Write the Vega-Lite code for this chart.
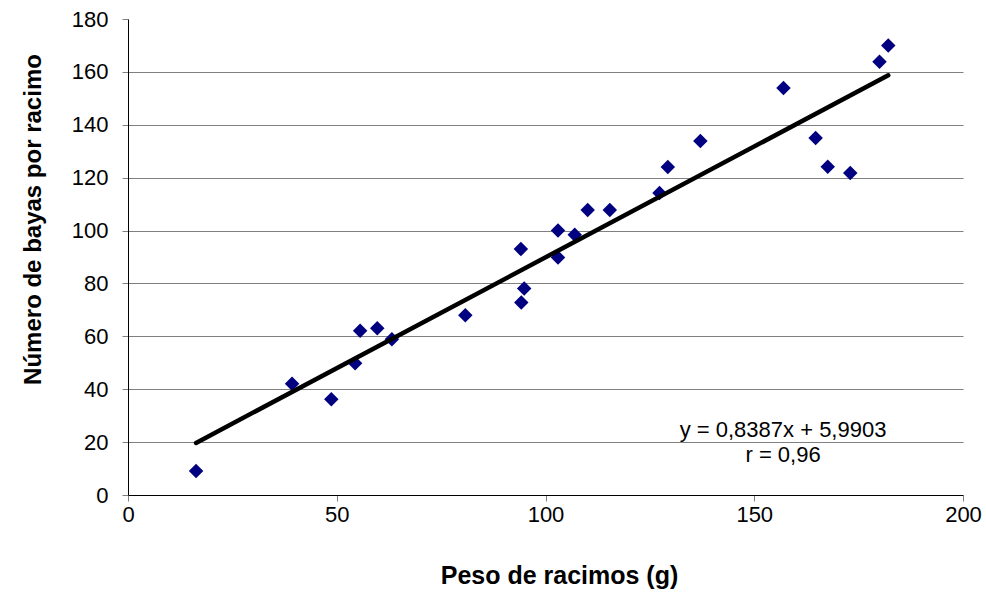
{
  "$schema": "https://vega.github.io/schema/vega-lite/v6.json",
  "width": 835,
  "height": 476,
  "autosize": {"type": "none"},
  "padding": {"left": 128, "top": 19, "right": 23, "bottom": 102},
  "background": "white",
  "config": {
    "view": {"stroke": null},
    "font": "Liberation Sans"
  },
  "datasets": {
    "points": [
      {"peso": 16.3, "bayas": 9.1},
      {"peso": 39.3, "bayas": 42.1},
      {"peso": 48.7, "bayas": 36.2},
      {"peso": 54.4, "bayas": 49.8},
      {"peso": 55.6, "bayas": 62.1},
      {"peso": 59.7, "bayas": 63.1},
      {"peso": 63.2, "bayas": 58.9},
      {"peso": 80.8, "bayas": 68.0},
      {"peso": 94.1, "bayas": 93.0},
      {"peso": 94.2, "bayas": 72.8},
      {"peso": 94.9, "bayas": 78.1},
      {"peso": 103.0, "bayas": 100.0},
      {"peso": 103.0, "bayas": 89.8},
      {"peso": 107.0, "bayas": 98.4},
      {"peso": 110.1, "bayas": 107.8},
      {"peso": 115.4, "bayas": 107.8},
      {"peso": 127.3, "bayas": 114.2},
      {"peso": 129.3, "bayas": 124.0},
      {"peso": 137.1, "bayas": 133.9},
      {"peso": 157.0, "bayas": 153.9},
      {"peso": 164.7, "bayas": 135.0},
      {"peso": 167.6, "bayas": 124.1},
      {"peso": 173.0, "bayas": 121.8},
      {"peso": 180.0, "bayas": 163.8},
      {"peso": 182.1, "bayas": 170.0}
    ],
    "trend": [
      {"peso": 16.3, "bayas": 19.7},
      {"peso": 182.1, "bayas": 158.7}
    ],
    "notes": [
      {"peso": 156.9, "bayas": 24.6, "label": "y = 0,8387x + 5,9903"},
      {"peso": 156.9, "bayas": 15.0, "label": "r = 0,96"}
    ]
  },
  "layer": [
    {
      "data": {"name": "points"},
      "mark": {"type": "point", "shape": "diamond", "filled": true, "size": 210, "color": "#000080", "opacity": 1},
      "encoding": {
        "x": {
          "field": "peso", "type": "quantitative",
          "scale": {"domain": [0, 200], "nice": false, "zero": true},
          "axis": {
            "title": "Peso de racimos (g)",
            "values": [0, 50, 100, 150, 200],
            "grid": false,
            "domainColor": "black", "domainWidth": 1,
            "tickColor": "#808080", "tickSize": 6, "tickWidth": 1,
            "labelFont": "Liberation Sans", "labelFontSize": 22, "labelColor": "black",
            "labelPadding": 3, "labelFlush": false,
            "titleFont": "Liberation Sans", "titleFontSize": 25, "titleFontWeight": "bold",
            "titleColor": "black", "titlePadding": 38, "titleX": 431
          }
        },
        "y": {
          "field": "bayas", "type": "quantitative",
          "scale": {"domain": [0, 180], "nice": false, "zero": true},
          "axis": {
            "title": "Número de bayas por racimo",
            "values": [0, 20, 40, 60, 80, 100, 120, 140, 160, 180],
            "grid": true,
            "gridColor": "#808080", "gridWidth": 1,
            "gridOpacity": {"condition": {"test": "datum.value >= 180 || datum.value <= 0", "value": 0}, "value": 1},
            "domainColor": "black", "domainWidth": 1,
            "tickColor": "#808080", "tickSize": 6, "tickWidth": 1,
            "labelFont": "Liberation Sans", "labelFontSize": 22, "labelColor": "black",
            "labelPadding": 14, "labelFlush": false,
            "titleFont": "Liberation Sans", "titleFontSize": 24, "titleFontWeight": "bold",
            "titleColor": "black", "titlePadding": 26, "titleY": 200
          }
        }
      }
    },
    {
      "data": {"name": "trend"},
      "mark": {"type": "line", "color": "black", "strokeWidth": 4.5, "strokeCap": "round"},
      "encoding": {
        "x": {"field": "peso", "type": "quantitative"},
        "y": {"field": "bayas", "type": "quantitative"}
      }
    },
    {
      "data": {"name": "notes"},
      "mark": {"type": "text", "font": "Liberation Sans", "fontSize": 22, "color": "black", "align": "center", "baseline": "middle"},
      "encoding": {
        "x": {"field": "peso", "type": "quantitative"},
        "y": {"field": "bayas", "type": "quantitative"},
        "text": {"field": "label"}
      }
    }
  ]
}
